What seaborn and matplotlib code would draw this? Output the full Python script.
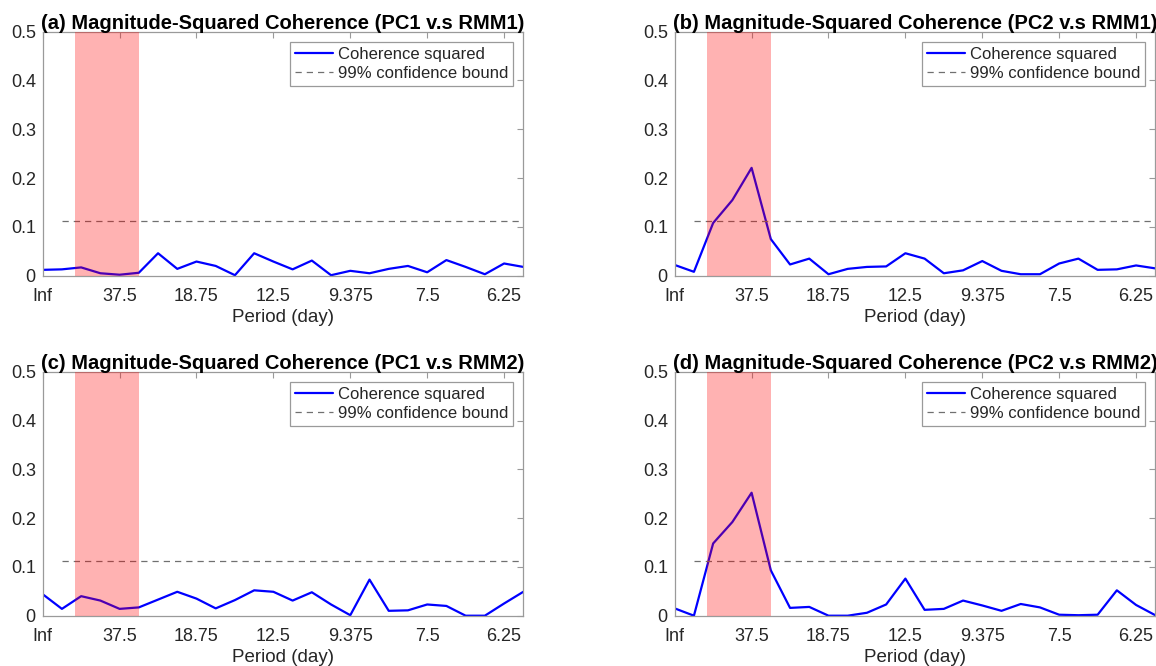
import numpy as np
import pandas as pd
import matplotlib
matplotlib.use("Agg")
import matplotlib.pyplot as plt
import seaborn as sns

sns.set_theme(style="white")
plt.rcParams["font.family"] = ["Liberation Sans", "DejaVu Sans"]

# Frequency index k -> frequency k/150 cycles per day (period 150/k days)
freq_index = list(range(26))
tick_index = [0, 4, 8, 12, 16, 20, 24]
tick_labels = ["Inf", "37.5", "18.75", "12.5", "9.375", "7.5", "6.25"]
ytick_values = [0, 0.1, 0.2, 0.3, 0.4, 0.5]
ytick_labels = ["0", "0.1", "0.2", "0.3", "0.4", "0.5"]

# Magnitude-squared coherence for each pair
msc_pc1_rmm1 = [0.012, 0.013, 0.017, 0.005, 0.002, 0.006, 0.046, 0.014, 0.029, 0.020,
                0.001, 0.046, 0.029, 0.013, 0.031, 0.001, 0.010, 0.005, 0.014, 0.020,
                0.007, 0.032, 0.018, 0.003, 0.025, 0.018]
msc_pc2_rmm1 = [0.022, 0.008, 0.108, 0.155, 0.221, 0.075, 0.023, 0.035, 0.003, 0.014,
                0.018, 0.019, 0.046, 0.035, 0.005, 0.011, 0.030, 0.010, 0.003, 0.003,
                0.025, 0.035, 0.012, 0.013, 0.021, 0.015]
msc_pc1_rmm2 = [0.044, 0.014, 0.040, 0.031, 0.014, 0.017, 0.033, 0.049, 0.035, 0.015,
                0.032, 0.052, 0.049, 0.031, 0.048, 0.023, 0.001, 0.074, 0.010, 0.011,
                0.023, 0.020, 0.000, 0.000, 0.025, 0.049]
msc_pc2_rmm2 = [0.015, 0.000, 0.148, 0.192, 0.252, 0.093, 0.016, 0.018, 0.000, 0.000,
                0.006, 0.023, 0.076, 0.012, 0.014, 0.031, 0.021, 0.010, 0.024, 0.017,
                0.002, 0.001, 0.002, 0.052, 0.022, 0.001]

confidence_bound = 0.112
bound_index = [1, 25]

# MJO band: 30-90 day periods
band_periods = (90.0, 30.0)
record_length = 150.0

titles = [
    "(a) Magnitude-Squared Coherence (PC1 v.s RMM1)",
    "(b) Magnitude-Squared Coherence (PC2 v.s RMM1)",
    "(c) Magnitude-Squared Coherence (PC1 v.s RMM2)",
    "(d) Magnitude-Squared Coherence (PC2 v.s RMM2)",
]
series = [msc_pc1_rmm1, msc_pc2_rmm1, msc_pc1_rmm2, msc_pc2_rmm2]

W, H = 1156, 666
fig = plt.figure(figsize=(W / 100, H / 100), dpi=100)
fig.patch.set_facecolor("white")

ax_w, ax_h = 480.6, 244.0
lefts = [42.7, 674.7]
tops = [31.7, 371.7]

frame_color = "#9a9a9a"
text_color = "#262626"

for i, (title, values) in enumerate(zip(titles, series)):
    left = lefts[i % 2]
    top = tops[i // 2]
    ax = fig.add_axes([left / W, 1 - (top + ax_h) / H, ax_w / W, ax_h / H])

    df = pd.DataFrame({"k": freq_index, "msc": values})
    sns.lineplot(data=df, x="k", y="msc", ax=ax, color="#0000ff", lw=1.6,
                 label="Coherence squared", zorder=2)
    bound_df = pd.DataFrame({"k": bound_index,
                             "msc": [confidence_bound] * len(bound_index)})
    sns.lineplot(data=bound_df, x="k", y="msc", ax=ax, color="#707070", lw=0.9,
                 linestyle=(0, (5, 4)), label="99% confidence bound", zorder=2)

    ax.axvspan(record_length / band_periods[0], record_length / band_periods[1],
               color="red", alpha=0.3, lw=0, zorder=3)

    ax.set_xlim(0, 25)
    ax.set_ylim(0, 0.5)
    ax.set_xticks(tick_index)
    ax.set_xticklabels(tick_labels)
    ax.set_yticks(ytick_values)
    ax.set_yticklabels(ytick_labels)
    ax.tick_params(axis="both", direction="in", length=4, width=0.8,
                   color=frame_color, labelcolor=text_color, labelsize=13,
                   top=True, right=True)
    ax.tick_params(axis="x", pad=9)
    ax.tick_params(axis="y", pad=5)
    for spine in ax.spines.values():
        spine.set_color(frame_color)
        spine.set_linewidth(0.9)
        spine.set_visible(True)

    ax.set_xlabel("Period (day)", fontsize=13.5, color=text_color, labelpad=3)
    ax.set_ylabel("")
    ax.set_title(title, fontsize=14.5, fontweight="bold", color="black",
                 pad=2, loc="left", x=-0.003)

    leg = ax.legend(loc="upper right", fontsize=12, frameon=True,
                    fancybox=False, framealpha=1, edgecolor=frame_color,
                    handlelength=2.3, handletextpad=0.3, labelspacing=0.25,
                    borderpad=0.3, borderaxespad=0.6)
    leg.get_frame().set_linewidth(0.9)
    for t in leg.get_texts():
        t.set_color(text_color)
    leg.set_zorder(5)

fig.savefig("out.png", dpi=100, facecolor="white")
